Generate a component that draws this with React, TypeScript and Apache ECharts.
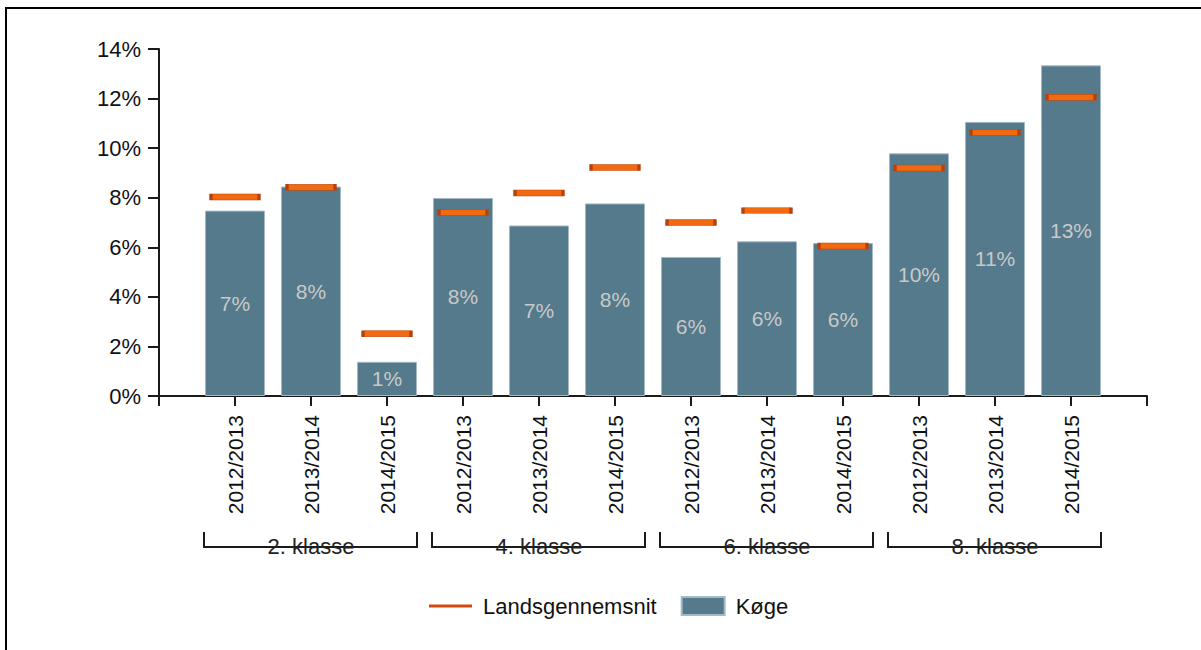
import React, { useEffect, useRef } from "react";
import * as echarts from "echarts";

const seasons = ["2012/2013", "2013/2014", "2014/2015"];
const grades = ["2. klasse", "4. klasse", "6. klasse", "8. klasse"];
const categories = grades.flatMap(() => seasons);
const koegeValues = [7.48, 8.45, 1.38, 7.99, 6.88, 7.77, 5.61, 6.24, 6.17, 9.79, 11.06, 13.34];
const landsValues = [8.03, 8.42, 2.51, 7.4, 8.19, 9.22, 7.0, 7.48, 6.05, 9.2, 10.63, 12.05];
const yMin = 0;
const yMax = 14;
const yInterval = 2;

const FONT = "'Liberation Sans', Arial, sans-serif";
const BAR_COLOR = "#547a8c";
const BAR_BORDER = "#a3bac6";
const LINE_FILL = "#f26a10";
const LINE_BORDER = "#b9400c";
const BAR_WIDTH = 60;

export default function App() {
  const ref = useRef<HTMLDivElement>(null);

  useEffect(() => {
    if (!ref.current) return;
    const chart = echarts.init(ref.current, undefined, { renderer: "svg" });
    const axisData = ["", ...categories, ""];
    const barData: (number | string)[] = ["-", ...koegeValues, "-"];
    const lineData: (number | string)[] = ["-", ...landsValues, "-"];

    chart.setOption({
      animation: false,
      backgroundColor: "#ffffff",
      grid: { left: 159, right: 54, top: 49, bottom: 254, containLabel: false },
      legend: {
        left: 424,
        top: 590,
        itemWidth: 43,
        itemHeight: 18,
        itemGap: 24,
        textStyle: { fontSize: 22, color: "#111", fontFamily: FONT, padding: [0, 0, 0, 6] },
        data: [
          {
            name: "Landsgennemsnit",
            icon: "path://M0,0 M0,18 M0,7.5 L43,7.5 L43,10.5 L0,10.5 Z",
            itemStyle: { color: "#d4490e", borderWidth: 0 },
          },
          { name: "Køge", icon: "rect" },
        ],
      },
      xAxis: {
        type: "category",
        data: axisData,
        boundaryGap: false,
        axisLine: { lineStyle: { color: "#1a1a1a", width: 2 } },
        axisTick: { show: true, length: 10, interval: 0, lineStyle: { color: "#1a1a1a", width: 2 } },
        axisLabel: {
          interval: 0,
          rotate: 90,
          margin: 19,
          fontSize: 21,
          color: "#111",
          fontFamily: FONT,
        },
        splitLine: { show: false },
      },
      yAxis: {
        type: "value",
        min: yMin,
        max: yMax,
        interval: yInterval,
        axisLine: { show: true, lineStyle: { color: "#1a1a1a", width: 2 } },
        axisTick: { show: true, length: 11, lineStyle: { color: "#1a1a1a", width: 2 } },
        axisLabel: {
          formatter: "{value}%",
          margin: 18,
          fontSize: 22,
          color: "#111",
          fontFamily: FONT,
        },
        splitLine: { show: false },
      },
      series: [
        {
          name: "Køge",
          type: "bar",
          data: barData,
          barWidth: BAR_WIDTH,
          itemStyle: { color: BAR_COLOR, borderColor: BAR_BORDER, borderWidth: 1 },
          label: {
            show: true,
            position: "inside",
            fontSize: 21,
            color: "#c9c9c9",
            fontFamily: FONT,
            formatter: (p: any) => Math.round(p.value) + "%",
          },
          z: 2,
        },
        {
          name: "Landsgennemsnit",
          type: "scatter",
          data: lineData,
          symbol: "rect",
          symbolSize: [48, 6],
          itemStyle: { color: LINE_FILL, borderColor: LINE_BORDER, borderWidth: 1.2, opacity: 1 },
          z: 5,
        },
      ],
    });

    const pt = (i: number) => chart.convertToPixel({ gridIndex: 0 }, [i, 0]) as number[];
    const elements: any[] = [
      {
        type: "line",
        shape: { x1: 6, y1: 8, x2: 6, y2: 650 },
        style: { stroke: "#000", lineWidth: 2 },
      },
      {
        type: "line",
        shape: { x1: 5, y1: 8, x2: 1201, y2: 8 },
        style: { stroke: "#000", lineWidth: 2 },
      },
    ];
    grades.forEach((g, gi) => {
      const first = 1 + gi * seasons.length;
      const last = first + seasons.length - 1;
      const mid = (first + last) / 2;
      const l = pt(first)[0] - BAR_WIDTH / 2 - 1;
      const r = pt(last)[0] + BAR_WIDTH / 2;
      const cx = pt(mid)[0];
      elements.push({
        type: "polyline",
        shape: { points: [[l, 532], [l, 547], [r, 547], [r, 532]] },
        style: { stroke: "#1a1a1a", lineWidth: 2, fill: null },
      });
      elements.push({
        type: "text",
        x: cx,
        y: 546,
        style: {
          text: g,
          fontSize: 22,
          fontFamily: FONT,
          fill: "#222",
          align: "center",
          verticalAlign: "middle",
        },
      });
    });
    chart.setOption({ graphic: { elements } });

    return () => chart.dispose();
  }, []);

  return (
    <div
      ref={ref}
      style={{ position: "absolute", left: 0, top: 0, width: 1201, height: 650 }}
    />
  );
}
